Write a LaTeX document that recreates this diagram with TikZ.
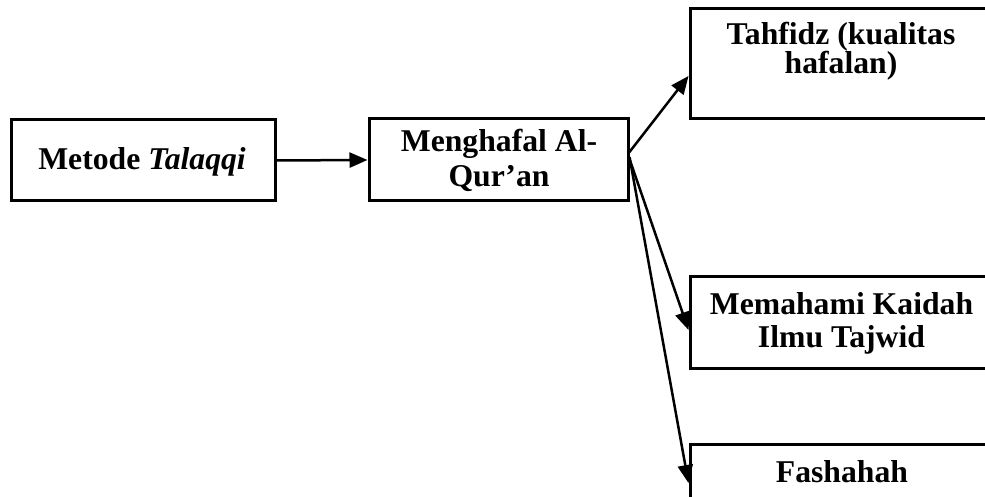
\documentclass[tikz,border=0pt]{standalone}
\usepackage{fontspec}
\setmainfont{Liberation Serif}
\usetikzlibrary{arrows.meta,calc}
\tikzset{
  box/.style={draw, line width=3pt, rectangle, inner sep=0pt},
  txt/.style={inner sep=0pt, anchor=base, font=\fontsize{31.7}{35}\selectfont\bfseries},
  arr/.style={line width=2.5pt, -{Triangle[length=18pt,width=15pt]}}
}
\newcommand{\twolines}[3]{\vtop{\baselineskip=#1pt\lineskiplimit=-100pt\halign{\hfil##\hfil\cr #2\cr #3\cr}}}
\begin{document}
\begin{tikzpicture}[x=1pt,y=1pt]
\useasboundingbox (0,0) rectangle (985,497);
\clip (0,0) rectangle (985,497);
% boxes
\node[box, minimum width=264, minimum height=81] (b1) at (143,336.5) {};
\node[box, minimum width=259, minimum height=82] (b2) at (498.5,337) {};
\node[box, minimum width=303, minimum height=110] (b3) at (841.5,433) {};
\node[box, minimum width=303, minimum height=92] (b4) at (841.5,174) {};
\node[box, minimum width=303, minimum height=80] (b5) at (841.5,12) {};
% texts
\node[txt] (t1) at (142,327) {Metode \textit{Talaqqi}};
\node[txt] (t2) at (499,345.3) {\twolines{35}{Menghafal Al-}{Qur’an}};
\node[txt] (t3) at (841,452.7) {\twolines{29}{Tahfidz (kualitas}{hafalan)}};
\node[txt] (t4) at (841.5,182) {\twolines{33}{Memahami Kaidah}{Ilmu Tajwid}};
\node[txt] (t5) at (842,14) {Fashahah};
% connectors
\draw[arr] (b1.east) -- (b2.west);
\draw[arr] ([yshift=8pt]b2.east) -- ([yshift=-12pt]b3.west);
\draw[arr] ([yshift=1pt]b2.east) -- ([yshift=-7pt]b4.west);
\draw[arr] ([yshift=3pt]b2.east) -- ([yshift=2pt]b5.west);
\end{tikzpicture}
\end{document}
